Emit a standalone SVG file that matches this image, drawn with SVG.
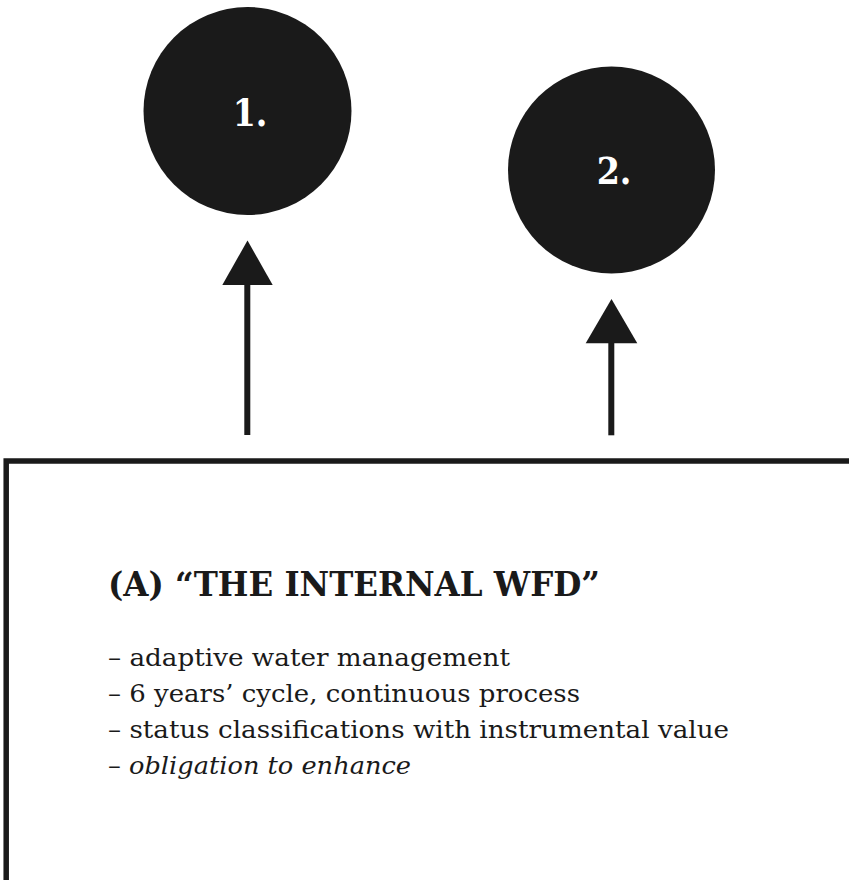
<svg xmlns="http://www.w3.org/2000/svg" width="849" height="880" viewBox="0 0 849 880">
  <style>
    .dot { fill: #1a1a1a; }
    .num { font-family: "DejaVu Serif", "Liberation Serif", serif; font-weight: bold; font-size: 37px; fill: #ffffff; text-anchor: middle; font-stretch: condensed; }
    .edge { stroke: #1a1a1a; stroke-width: 6; fill: none; }
    .head { fill: #1a1a1a; }
    .frame { stroke: #1a1a1a; stroke-width: 5.5; fill: none; }
    .title { font-family: "DejaVu Serif", "Liberation Serif", serif; font-weight: bold; font-size: 33px; fill: #1a1a1a; font-stretch: condensed; }
    .item { font-family: "DejaVu Serif", "Liberation Serif", serif; font-size: 23.5px; fill: #1a1a1a; }
    .em { font-style: italic; }
  </style>
  <rect width="849" height="880" fill="#ffffff"/>

  <g id="node-1">
    <circle class="dot" cx="247.5" cy="111" r="104"/>
    <text class="num" x="250" y="126">1.</text>
  </g>

  <g id="node-2">
    <circle class="dot" cx="611.5" cy="170" r="103.5"/>
    <text class="num" x="614" y="184">2.</text>
  </g>

  <g id="connectors">
    <line class="edge" x1="247.3" y1="435" x2="247.3" y2="284"/>
    <polygon class="head" points="247.5,240.5 272.7,285 222.3,285"/>
    <line class="edge" x1="611.3" y1="435.3" x2="611.3" y2="342"/>
    <polygon class="head" points="611.5,299 637.3,343.3 585.7,343.3"/>
  </g>

  <g id="box-a">
    <polyline class="frame" points="6.2,880 6.2,461 849,461"/>
    <text class="title" x="108" y="596" textLength="492" lengthAdjust="spacingAndGlyphs">(A) “THE INTERNAL WFD”</text>
    <text class="item" x="108" y="666" textLength="402" lengthAdjust="spacingAndGlyphs">– adaptive water management</text>
    <text class="item" x="108" y="702" textLength="472" lengthAdjust="spacingAndGlyphs">– 6 years’ cycle, continuous process</text>
    <text class="item" x="108" y="738" textLength="621" lengthAdjust="spacingAndGlyphs">– status classifications with instrumental value</text>
    <text class="item" x="108" y="774" textLength="303" lengthAdjust="spacingAndGlyphs">– <tspan class="em">obligation to enhance</tspan></text>
  </g>
</svg>
